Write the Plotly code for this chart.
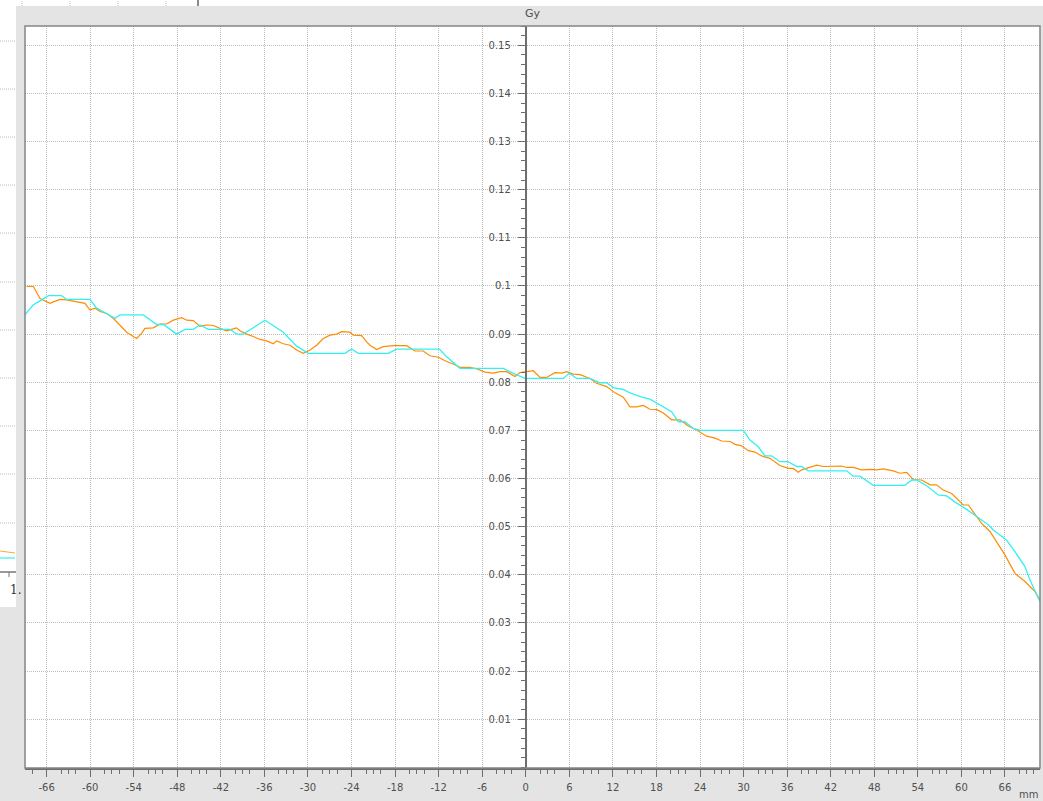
import plotly.graph_objects as go

# ---------------- data ----------------
orange_x = [-68.75, -67.83, -66.91, -65.54, -65.08, -64.16, -63.24, -62.33, -61.40, -60.72,
            -60.03, -59.34, -58.65, -57.73, -56.82, -55.90, -54.98, -54.06, -53.60, -52.91,
            -52.45, -51.31, -50.39, -49.47, -48.55, -47.40, -46.71, -45.80, -44.88, -43.96,
            -43.04, -42.12, -41.20, -40.29, -39.83, -39.37, -38.45, -37.53, -36.61, -35.69,
            -34.78, -34.32, -33.40, -32.48, -31.56, -30.65, -29.72, -28.81, -27.89, -26.97,
            -26.05, -25.36, -24.22, -23.76, -22.61, -21.92, -21.46, -20.54, -19.63, -18.25,
            -16.41, -15.26, -14.12, -13.20, -12.05, -10.90, -9.99, -9.06, -7.69, -6.77,
            -5.62, -4.48, -3.55, -2.64, -1.49, -0.80, 0.12, 1.03, 1.96, 2.87,
            4.02, 4.94, 5.63, 6.54, 7.47, 8.84, 9.76, 11.14, 12.29, 13.43,
            14.35, 15.27, 16.18, 17.11, 18.03, 18.94, 20.09, 21.24, 22.38, 23.54,
            24.91, 26.06, 26.98, 28.13, 28.82, 29.73, 30.65, 31.57, 32.49, 33.63,
            35.01, 36.16, 36.85, 37.53, 38.00, 39.15, 40.06, 40.98, 42.36, 43.51,
            44.20, 45.11, 46.26, 47.41, 48.33, 49.24, 50.62, 51.54, 52.46, 53.37,
            54.53, 55.68, 56.59, 57.51, 58.66, 59.57, 60.26, 60.95, 61.64, 62.79,
            63.94, 64.86, 66.01, 67.38, 68.76, 70.14, 70.83]
orange_y = [0.0999, 0.0999, 0.0974, 0.0964, 0.0967, 0.0972, 0.0971, 0.0969, 0.0966, 0.0964,
            0.0950, 0.0954, 0.0947, 0.0943, 0.0933, 0.0919, 0.0904, 0.0895, 0.0891, 0.0902,
            0.0912, 0.0913, 0.0921, 0.0921, 0.0929, 0.0934, 0.0929, 0.0928, 0.0916, 0.0919,
            0.0918, 0.0912, 0.0907, 0.0911, 0.0913, 0.0907, 0.0900, 0.0895, 0.0889, 0.0886,
            0.0880, 0.0886, 0.0880, 0.0877, 0.0867, 0.0860, 0.0867, 0.0877, 0.0891, 0.0898,
            0.0900, 0.0905, 0.0904, 0.0898, 0.0897, 0.0884, 0.0877, 0.0868, 0.0874, 0.0876,
            0.0876, 0.0865, 0.0865, 0.0855, 0.0852, 0.0843, 0.0838, 0.0831, 0.0831, 0.0828,
            0.0821, 0.0819, 0.0822, 0.0822, 0.0812, 0.0820, 0.0822, 0.0824, 0.0810, 0.0810,
            0.0820, 0.0819, 0.0822, 0.0817, 0.0816, 0.0808, 0.0798, 0.0791, 0.0778, 0.0769,
            0.0749, 0.0749, 0.0752, 0.0744, 0.0743, 0.0736, 0.0722, 0.0722, 0.0709, 0.0701,
            0.0688, 0.0684, 0.0678, 0.0677, 0.0671, 0.0668, 0.0658, 0.0655, 0.0647, 0.0642,
            0.0627, 0.0621, 0.0621, 0.0613, 0.0618, 0.0623, 0.0628, 0.0625, 0.0626, 0.0626,
            0.0623, 0.0623, 0.0618, 0.0619, 0.0618, 0.0620, 0.0616, 0.0611, 0.0613, 0.0598,
            0.0597, 0.0587, 0.0587, 0.0576, 0.0569, 0.0555, 0.0545, 0.0545, 0.0531, 0.0507,
            0.0490, 0.0469, 0.0441, 0.0403, 0.0386, 0.0365, 0.0348]

cyan_x = [-69.00, -67.83, -66.91, -65.77, -63.93, -63.24, -60.03, -59.11, -56.58, -55.90,
          -52.68, -50.85, -49.93, -48.09, -46.94, -45.80, -44.88, -43.73, -40.74, -39.83,
          -38.91, -35.92, -33.40, -31.56, -29.95, -24.90, -23.99, -23.07, -18.94, -17.79,
          -11.91, -10.90, -9.06, -3.09, -1.95, -0.11, 5.17, 6.00, 7.01, 8.84,
          10.22, 11.14, 12.05, 13.43, 14.35, 15.96, 17.11, 18.49, 20.09, 21.01,
          21.93, 23.07, 24.00, 29.96, 30.88, 32.02, 32.95, 33.87, 35.01, 36.16,
          37.31, 38.00, 38.91, 44.20, 45.11, 46.03, 47.87, 52.23, 53.15, 53.84,
          55.21, 56.82, 57.97, 59.35, 60.72, 62.10, 63.71, 64.39, 65.55, 66.24,
          67.38, 68.76, 69.45, 70.83]
cyan_y = [0.0940, 0.0961, 0.0969, 0.0980, 0.0980, 0.0972, 0.0972, 0.0954, 0.0933, 0.0940,
          0.0940, 0.0920, 0.0920, 0.0900, 0.0910, 0.0910, 0.0919, 0.0910, 0.0910, 0.0900,
          0.0900, 0.0929, 0.0904, 0.0875, 0.0860, 0.0860, 0.0869, 0.0860, 0.0860, 0.0869,
          0.0869, 0.0853, 0.0829, 0.0829, 0.0820, 0.0808, 0.0808, 0.0819, 0.0808, 0.0808,
          0.0799, 0.0799, 0.0789, 0.0785, 0.0778, 0.0769, 0.0765, 0.0753, 0.0739, 0.0718,
          0.0718, 0.0704, 0.0700, 0.0700, 0.0680, 0.0666, 0.0647, 0.0647, 0.0635, 0.0635,
          0.0625, 0.0625, 0.0616, 0.0616, 0.0605, 0.0605, 0.0586, 0.0586, 0.0597, 0.0597,
          0.0585, 0.0566, 0.0564, 0.0549, 0.0536, 0.0521, 0.0504, 0.0493, 0.0479, 0.0472,
          0.0448, 0.0417, 0.0389, 0.0344]

x_tick_vals = [-66, -60, -54, -48, -42, -36, -30, -24, -18, -12, -6, 0,
               6, 12, 18, 24, 30, 36, 42, 48, 54, 60, 66]
x_tick_text = ["-66", "-60", "-54", "-48", "-42", "-36", "-30", "-24", "-18", "-12", "-6", "0",
               "6", "12", "18", "24", "30", "36", "42", "48", "54", "60", "66"]
x_minor_vals = [-68, -64, -63, -62, -58, -57, -56, -52, -51, -50, -46, -45, -44,
                -40, -39, -38, -34, -33, -32, -28, -27, -26, -22, -21, -20, -16, -15, -14,
                -10, -9, -8, -4, -3, -2, 2, 3, 4, 8, 9, 10, 14, 15, 16, 20, 21, 22,
                26, 27, 28, 32, 33, 34, 38, 39, 40, 44, 45, 46, 50, 51, 52, 56, 57, 58,
                62, 63, 64, 68, 69, 70]
y_tick_vals = [0.01, 0.02, 0.03, 0.04, 0.05, 0.06, 0.07, 0.08, 0.09, 0.10,
               0.11, 0.12, 0.13, 0.14, 0.15]
y_tick_text = ["0.01", "0.02", "0.03", "0.04", "0.05", "0.06", "0.07", "0.08", "0.09", "0.1",
               "0.11", "0.12", "0.13", "0.14", "0.15"]
y_unit = "Gy"
x_unit = "mm"

X_RANGE = [-68.98, 70.83]
Y_RANGE = [-0.00013, 0.15401]

# ---------------- layout geometry ----------------
W, H = 1043, 801
ML, MR, MT, MB = 25, 3, 26, 33
PW, PH = W - ML - MR, H - MT - MB


def px2x(px):
    return (px - ML) / PW


def py2y(py):
    return (H - MB - py) / PH


FRAME = "#e4e4e4"
GRID = "#bdbdbd"
GRIDDASH = "1px,1px"
AX = "#6e6e6e"
TXT = "#505050"
FONT = "DejaVu Sans"
TICK_SIZE = 10

fig = go.Figure()
fig.add_trace(go.Scatter(x=orange_x, y=orange_y, mode="lines",
                         line=dict(color="#ff8c00", width=1.2), showlegend=False))
fig.add_trace(go.Scatter(x=cyan_x, y=cyan_y, mode="lines",
                         line=dict(color="#33f0f0", width=1.3), showlegend=False))

yaxis_pos = (0 - X_RANGE[0]) / (X_RANGE[1] - X_RANGE[0])

fig.update_layout(
    width=W, height=H,
    margin=dict(l=ML, r=MR, t=MT, b=MB, pad=0),
    paper_bgcolor=FRAME, plot_bgcolor="white",
    font=dict(family=FONT, size=11, color=TXT),
    xaxis=dict(range=X_RANGE, domain=[0, 1], tickmode="array",
               tickvals=x_tick_vals, ticktext=x_tick_text,
               ticks="outside", ticklen=7, tickwidth=1, tickcolor=AX,
               showline=True, linecolor=AX, linewidth=2,
               showgrid=True, gridcolor=GRID, griddash=GRIDDASH, gridwidth=1,
               zeroline=False, tickfont=dict(size=TICK_SIZE, color=TXT, family=FONT),
               ticklabelstandoff=2,
               minor=dict(tickmode="array", tickvals=x_minor_vals, ticks="outside",
                          ticklen=4, tickcolor=AX, showgrid=False)),
    yaxis=dict(range=Y_RANGE, anchor="free", position=yaxis_pos, side="left",
               tickmode="array", tickvals=y_tick_vals, ticktext=y_tick_text,
               ticks="outside", ticklen=7, tickwidth=1, tickcolor=AX,
               showline=True, linecolor=AX, linewidth=2,
               showgrid=True, gridcolor=GRID, griddash=GRIDDASH, gridwidth=1,
               zeroline=False, tickfont=dict(size=TICK_SIZE, color=TXT, family=FONT),
               ticklabelstandoff=5,
               minor=dict(dtick=0.002, tick0=0, ticks="outside", ticklen=4,
                          tickcolor=AX, showgrid=False)),
)

shapes = []
# plot frame
shapes.append(dict(type="rect", xref="paper", yref="paper", x0=0, x1=1, y0=0, y1=1,
                   line=dict(color="#858585", width=1.5), layer="above"))
# fragments of the window behind (top strip and left strip)
shapes.append(dict(type="rect", xref="paper", yref="paper",
                   x0=px2x(0), x1=px2x(W), y0=py2y(6), y1=py2y(0),
                   line=dict(width=0), fillcolor="white", layer="below"))
shapes.append(dict(type="rect", xref="paper", yref="paper",
                   x0=px2x(0), x1=px2x(16), y0=py2y(607), y1=py2y(0),
                   line=dict(width=0), fillcolor="white", layer="below"))
for gx in [22, 70, 118, 166]:
    shapes.append(dict(type="line", xref="paper", yref="paper",
                       x0=px2x(gx), x1=px2x(gx), y0=py2y(6), y1=py2y(0),
                       line=dict(color=GRID, width=1, dash=GRIDDASH)))
shapes.append(dict(type="line", xref="paper", yref="paper",
                   x0=px2x(198), x1=px2x(198), y0=py2y(6), y1=py2y(0),
                   line=dict(color="#8a8a8a", width=2)))
for gy in [41, 89, 137, 185, 233, 282, 330, 378, 426, 474, 523]:
    shapes.append(dict(type="line", xref="paper", yref="paper",
                       x0=px2x(0), x1=px2x(15), y0=py2y(gy), y1=py2y(gy),
                       line=dict(color=GRID, width=1, dash=GRIDDASH)))
shapes.append(dict(type="line", xref="paper", yref="paper",
                   x0=px2x(0), x1=px2x(15), y0=py2y(551), y1=py2y(553),
                   line=dict(color="#ffa64d", width=1.2)))
shapes.append(dict(type="line", xref="paper", yref="paper",
                   x0=px2x(0), x1=px2x(15), y0=py2y(558), y1=py2y(558),
                   line=dict(color="#33f0f0", width=1.2)))
shapes.append(dict(type="line", xref="paper", yref="paper",
                   x0=px2x(0), x1=px2x(16), y0=py2y(572), y1=py2y(572),
                   line=dict(color="#777777", width=1.5)))
shapes.append(dict(type="line", xref="paper", yref="paper",
                   x0=px2x(9), x1=px2x(9), y0=py2y(572), y1=py2y(577),
                   line=dict(color="#777777", width=1)))
fig.update_layout(shapes=shapes)

fig.add_annotation(text=y_unit, xref="paper", yref="paper", x=0.5, y=py2y(14),
                   showarrow=False, xanchor="center", yanchor="middle",
                   font=dict(size=11, color=TXT, family=FONT))
fig.add_annotation(text=x_unit, xref="paper", yref="paper", x=px2x(1040), y=py2y(794),
                   showarrow=False, xanchor="right", yanchor="middle",
                   font=dict(size=10, color=TXT, family=FONT))
fig.add_annotation(text="1.", xref="paper", yref="paper", x=px2x(8), y=py2y(590),
                   showarrow=False, xanchor="left", yanchor="middle",
                   font=dict(size=12, color="#333333", family="DejaVu Serif"))

fig.write_html("out.html", config={"displayModeBar": False},
               post_script="document.body.style.margin='0';document.body.style.overflow='hidden';")
